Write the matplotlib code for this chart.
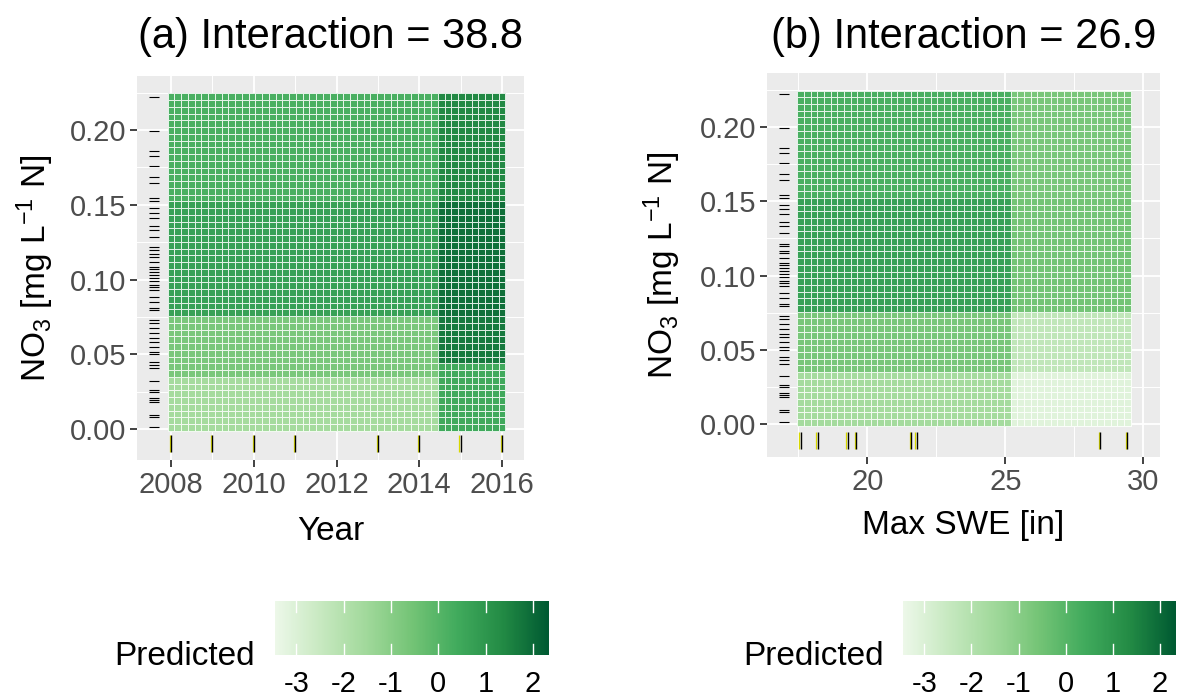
import numpy as np
import matplotlib
matplotlib.use("Agg")
import matplotlib.pyplot as plt
from matplotlib.colors import LinearSegmentedColormap
from matplotlib.ticker import MultipleLocator, FormatStrFormatter
from matplotlib.transforms import offset_copy

plt.rcParams['font.family'] = ['Liberation Sans', 'DejaVu Sans']
plt.rcParams['mathtext.fontset'] = 'custom'
plt.rcParams['mathtext.rm'] = 'Liberation Sans'
plt.rcParams['mathtext.it'] = 'Liberation Sans:italic'
plt.rcParams['mathtext.default'] = 'regular'

W, H = 1180, 700
N_GRID = 50

# observed predictor values (shown as rugs)
no3_obs = [0.2223, 0.1995, 0.1862, 0.1828, 0.1761, 0.1684, 0.1643, 0.1543,
           0.1523, 0.1476, 0.1447, 0.1413, 0.1358, 0.1331, 0.1286, 0.1215,
           0.1197, 0.1168, 0.1153, 0.1119, 0.1086, 0.1070, 0.1052, 0.1030,
           0.1012, 0.0992, 0.0963, 0.0952, 0.0930, 0.0885, 0.0852, 0.0807,
           0.0796, 0.0729, 0.0707, 0.0673, 0.0640, 0.0607, 0.0584, 0.0551,
           0.0517, 0.0500, 0.0450, 0.0428, 0.0406, 0.0321, 0.0261, 0.0250,
           0.0210, 0.0194, 0.0183, 0.0094, 0.0082, 0.0011]
year_obs = [2008, 2009, 2010, 2011, 2013, 2014, 2015, 2016]
swe_obs = [17.59, 18.20, 19.29, 19.59, 21.58, 21.79, 28.42, 29.42]

# piecewise-constant partial dependence surfaces
# rows: NO3 bands (low -> high), cols: x bands (low -> high)
year_breaks = [2014.45]
no3_breaks_a = [0.037, 0.043, 0.0765, 0.152]
pred_a = [[-1.60, 0.45],
          [-0.67, 0.45],
          [-0.67, 1.70],
          [0.70, 1.89],
          [0.25, 1.40]]

swe_breaks = [25.17]
no3_breaks_b = [0.0355, 0.0754, 0.151]
pred_b = [[-1.60, -3.12],
          [-0.65, -2.30],
          [0.70, -0.55],
          [0.25, -0.65]]

titles = ['(a) Interaction = 38.8', '(b) Interaction = 26.9']
pred_limits = (-3.45, 2.34)
cbar_ticks = [-3, -2, -1, 0, 1, 2]
greens = ['#EDF8E9', '#C7E9C0', '#A1D99B', '#74C476', '#41AB5D', '#238B45', '#005A32']
cmap = LinearSegmentedColormap.from_list('greens7', greens)

fig = plt.figure(figsize=(W / 100, H / 100), dpi=100)


def px_axes(left, top, right, bottom):
    return fig.add_axes([left / W, 1 - bottom / H, (right - left) / W, (bottom - top) / H])


def style_panel(ax):
    ax.set_facecolor('#EBEBEB')
    for s in ax.spines.values():
        s.set_visible(False)
    ax.set_axisbelow(True)
    ax.grid(which='major', color='white', linewidth=1.3)
    ax.grid(which='minor', color='white', linewidth=0.7)
    ax.tick_params(which='major', length=5, width=1.3, color='#333333',
                   labelcolor='#4D4D4D', labelsize=21, pad=3)
    ax.tick_params(which='minor', length=0)
    ax.yaxis.set_major_locator(MultipleLocator(0.05))
    ax.yaxis.set_minor_locator(MultipleLocator(0.025))
    ax.yaxis.set_major_formatter(FormatStrFormatter('%.2f'))


def draw_surface(ax, x_obs, xbreaks, ybreaks, pred):
    xc = np.linspace(min(x_obs), max(x_obs), N_GRID)
    yc = np.linspace(min(no3_obs), max(no3_obs), N_GRID)
    dx, dy = xc[1] - xc[0], yc[1] - yc[0]
    xe = np.append(xc - dx / 2, xc[-1] + dx / 2)
    ye = np.append(yc - dy / 2, yc[-1] + dy / 2)
    z = np.array(pred)[np.searchsorted(ybreaks, yc)][:, np.searchsorted(xbreaks, xc)]
    ax.pcolormesh(xe, ye, z, cmap=cmap, vmin=pred_limits[0], vmax=pred_limits[1],
                  edgecolors=(1, 1, 1, 0.85), linewidth=0.6, zorder=2)


def draw_rugs(ax, x_obs):
    ax.hlines(no3_obs, 0.031, 0.057, transform=ax.get_yaxis_transform(),
              color='black', linewidth=0.8, zorder=3)
    yel = offset_copy(ax.get_xaxis_transform(), fig=fig, x=-1.2, units='dots')
    ax.vlines(x_obs, 0.02, 0.064, transform=yel, color='#D8D800', linewidth=0.9, zorder=3)
    ax.vlines(x_obs, 0.02, 0.064, transform=ax.get_xaxis_transform(),
              color='black', linewidth=1.0, zorder=4)


def draw_legend(left, right, label_right):
    cax = px_axes(left, 601, right, 655)
    grad = np.linspace(pred_limits[0], pred_limits[1], 300)[None, :]
    cax.imshow(grad, extent=[pred_limits[0], pred_limits[1], 0, 1], aspect='auto',
               cmap=cmap, vmin=pred_limits[0], vmax=pred_limits[1])
    for t in cbar_ticks:
        cax.plot([t, t], [0, 0.2], color='white', linewidth=1)
        cax.plot([t, t], [0.8, 1], color='white', linewidth=1)
    cax.set_xlim(*pred_limits)
    cax.set_ylim(0, 1)
    cax.set_yticks([])
    cax.set_xticks(cbar_ticks)
    cax.set_xticklabels([str(t) for t in cbar_ticks])
    cax.tick_params(length=0, labelsize=21, labelcolor='black', pad=11)
    for s in cax.spines.values():
        s.set_visible(False)
    fig.text(label_right / W, 1 - 665 / H, 'Predicted', ha='right', va='baseline', fontsize=24)


ylabel = 'NO$_3$ [mg L$^{-1}$ N]'

# panel (a): NO3 x Year
ax1 = px_axes(137, 76, 524, 460)
style_panel(ax1)
draw_surface(ax1, year_obs, year_breaks, no3_breaks_a, pred_a)
draw_rugs(ax1, year_obs)
ax1.set_xlim(2007.18, 2016.53)
ax1.set_ylim(-0.0207, 0.2361)
ax1.xaxis.set_major_locator(MultipleLocator(2))
ax1.xaxis.set_minor_locator(MultipleLocator(1))
fig.text(330.5 / W, 1 - 48 / H, titles[0], ha='center', va='baseline', fontsize=30)
fig.text(330.5 / W, 1 - 540 / H, 'Year', ha='center', va='baseline', fontsize=24)
fig.text(35 / W, 1 - 268 / H, ylabel, rotation=90, ha='center', va='center', fontsize=24)

# panel (b): NO3 x Max SWE
ax2 = px_axes(767, 73, 1160, 457)
style_panel(ax2)
draw_surface(ax2, swe_obs, swe_breaks, no3_breaks_b, pred_b)
draw_rugs(ax2, swe_obs)
ax2.set_xlim(16.37, 30.6)
ax2.set_ylim(-0.0222, 0.2364)
ax2.xaxis.set_major_locator(MultipleLocator(5))
ax2.xaxis.set_minor_locator(MultipleLocator(2.5))
fig.text(963.5 / W, 1 - 48 / H, titles[1], ha='center', va='baseline', fontsize=30)
fig.text(963.5 / W, 1 - 534 / H, 'Max SWE [in]', ha='center', va='baseline', fontsize=24)
fig.text(662 / W, 1 - 265 / H, ylabel, rotation=90, ha='center', va='center', fontsize=24)

draw_legend(275, 549, 255)
draw_legend(903, 1176, 884)

fig.savefig('out.png', dpi=100)
